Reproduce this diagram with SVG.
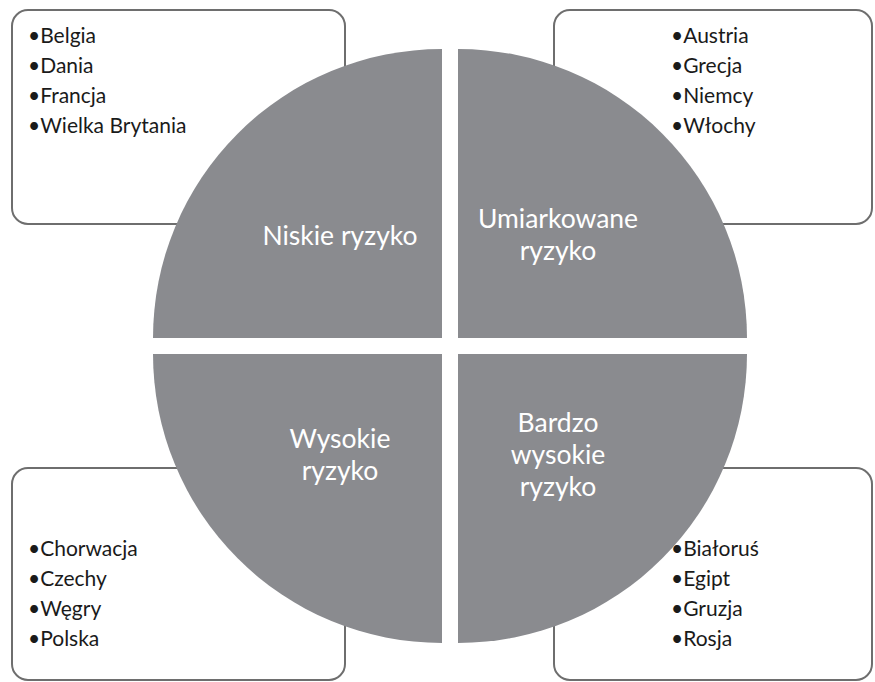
<svg xmlns="http://www.w3.org/2000/svg" width="875" height="682" viewBox="0 0 875 682">
<style>
.box{fill:#fff;stroke:#6e6e6e;stroke-width:2}
.q{fill:#8a8b8f}
.li{font-family:Lato,"Open Sans",sans-serif;font-size:21px;fill:#1a1a1a}
.lbl{font-family:Lato,"Open Sans",sans-serif;font-size:26.5px;fill:#fff;text-anchor:middle}
</style>
<rect width="875" height="682" fill="#fff"/>
<g id="box-tl"><rect class="box" x="12" y="10" width="333" height="214" rx="16"/>
<text class="li" x="28" y="43">•Belgia</text><text class="li" x="28" y="73">•Dania</text><text class="li" x="28" y="103">•Francja</text><text class="li" x="28" y="133">•Wielka Brytania</text></g>
<g id="box-tr"><rect class="box" x="554" y="10" width="318" height="214" rx="16"/>
<text class="li" x="671" y="43">•Austria</text><text class="li" x="671" y="73">•Grecja</text><text class="li" x="671" y="103">•Niemcy</text><text class="li" x="671" y="133">•Włochy</text></g>
<g id="box-bl"><rect class="box" x="12" y="468" width="333" height="212" rx="16"/>
<text class="li" x="28" y="556">•Chorwacja</text><text class="li" x="28" y="586">•Czechy</text><text class="li" x="28" y="616">•Węgry</text><text class="li" x="28" y="646">•Polska</text></g>
<g id="box-br"><rect class="box" x="554" y="468" width="318" height="212" rx="16"/>
<text class="li" x="671" y="556">•Białoruś</text><text class="li" x="671" y="586">•Egipt</text><text class="li" x="671" y="616">•Gruzja</text><text class="li" x="671" y="646">•Rosja</text></g>
<g id="q-tl"><path class="q" d="M442 338 H153 A289 289 0 0 1 442 49 Z"/><text class="lbl" x="340" y="245">Niskie ryzyko</text></g>
<g id="q-tr"><path class="q" d="M458 338 V49 A289 289 0 0 1 747 338 Z"/><text class="lbl" x="558" y="228">Umiarkowane</text><text class="lbl" x="558" y="260">ryzyko</text></g>
<g id="q-bl"><path class="q" d="M442 354 H153 A289 289 0 0 0 442 643 Z"/><text class="lbl" x="340" y="448">Wysokie</text><text class="lbl" x="340" y="480">ryzyko</text></g>
<g id="q-br"><path class="q" d="M458 354 V643 A289 289 0 0 0 747 354 Z"/><text class="lbl" x="558" y="432">Bardzo</text><text class="lbl" x="558" y="464">wysokie</text><text class="lbl" x="558" y="496">ryzyko</text></g>
<g id="connectors"/>
</svg>
